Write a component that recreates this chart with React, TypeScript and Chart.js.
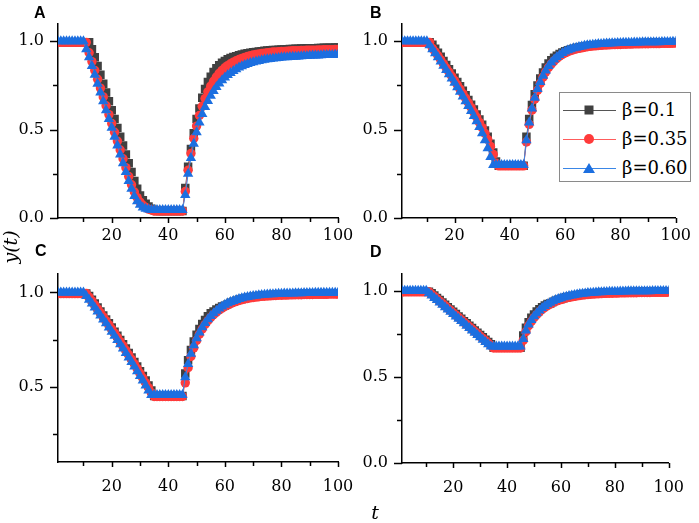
import { useEffect, useRef } from "react";
import Chart from "chart.js/auto";

// time steps t = 1..100
const T = [
  1, 2, 3, 4, 5, 6, 7, 8, 9, 10, 11, 12, 13, 14, 15, 16, 17, 18, 19, 20,
  21, 22, 23, 24, 25, 26, 27, 28, 29, 30, 31, 32, 33, 34, 35, 36, 37, 38, 39, 40,
  41, 42, 43, 44, 45, 46, 47, 48, 49, 50, 51, 52, 53, 54, 55, 56, 57, 58, 59, 60,
  61, 62, 63, 64, 65, 66, 67, 68, 69, 70, 71, 72, 73, 74, 75, 76, 77, 78, 79, 80,
  81, 82, 83, 84, 85, 86, 87, 88, 89, 90, 91, 92, 93, 94, 95, 96, 97, 98, 99, 100,
];

// panel A
const A_B010 = [
  0.994, 0.994, 0.994, 0.994, 0.994, 0.994, 0.994, 0.994, 0.994, 0.994, 0.994, 0.994,
  0.955, 0.91, 0.86, 0.81, 0.76, 0.71, 0.66, 0.61, 0.56, 0.51, 0.46, 0.41, 0.36, 0.31, 0.26, 0.21,
  0.165, 0.128, 0.1, 0.08, 0.065, 0.053, 0.045,
  0.04, 0.04, 0.04, 0.04, 0.04, 0.04, 0.04, 0.04, 0.04, 0.04,
  0.17, 0.29, 0.39, 0.48, 0.56, 0.62, 0.68, 0.73, 0.77, 0.8, 0.826, 0.848, 0.865, 0.878, 0.889,
  0.898, 0.905, 0.911, 0.916, 0.921, 0.925, 0.929, 0.932, 0.935, 0.938, 0.94, 0.942, 0.944, 0.946,
  0.948, 0.949, 0.95, 0.951, 0.952, 0.953, 0.954, 0.955, 0.956, 0.957, 0.958, 0.958, 0.959, 0.959,
  0.96, 0.96, 0.961, 0.961, 0.962, 0.962, 0.963, 0.963, 0.964, 0.964, 0.965, 0.965,
];
const A_B035 = [
  0.994, 0.994, 0.994, 0.994, 0.994, 0.994, 0.994, 0.994, 0.994, 0.994, 0.994,
  0.935, 0.885, 0.835, 0.785, 0.735, 0.685, 0.635, 0.585, 0.535, 0.485, 0.435, 0.385, 0.335, 0.285,
  0.235, 0.188, 0.147, 0.115, 0.09, 0.072, 0.06, 0.05, 0.045,
  0.04, 0.04, 0.04, 0.04, 0.04, 0.04, 0.04, 0.04, 0.04, 0.04, 0.04,
  0.15, 0.27, 0.365, 0.45, 0.52, 0.58, 0.632, 0.676, 0.714, 0.746, 0.774, 0.798, 0.818, 0.835, 0.85,
  0.862, 0.873, 0.882, 0.89, 0.897, 0.903, 0.909, 0.914, 0.918, 0.922, 0.925, 0.928, 0.931, 0.933,
  0.935, 0.937, 0.939, 0.94, 0.941, 0.942, 0.943, 0.944, 0.945, 0.946, 0.947, 0.947, 0.948, 0.948,
  0.949, 0.949, 0.95, 0.95, 0.951, 0.951, 0.952, 0.952, 0.953, 0.953, 0.954, 0.954,
];
const A_B060 = [
  1, 1, 1, 1, 1, 1, 1, 1, 1, 1,
  0.955, 0.91, 0.86, 0.81, 0.76, 0.71, 0.66, 0.61, 0.56, 0.51, 0.46, 0.41, 0.36, 0.31, 0.26, 0.21,
  0.165, 0.125, 0.095, 0.075, 0.06, 0.052, 0.048,
  0.045, 0.045, 0.045, 0.045, 0.045, 0.045, 0.045, 0.045, 0.045, 0.045, 0.045, 0.045,
  0.13, 0.25, 0.34, 0.42, 0.485, 0.54, 0.588, 0.628, 0.662, 0.692, 0.718, 0.741, 0.761, 0.779, 0.795,
  0.809, 0.821, 0.832, 0.842, 0.851, 0.859, 0.866, 0.872, 0.877, 0.881, 0.885, 0.889, 0.892, 0.895,
  0.898, 0.9, 0.902, 0.904, 0.906, 0.908, 0.909, 0.91, 0.911, 0.912, 0.913, 0.914, 0.915, 0.916,
  0.917, 0.918, 0.919, 0.92, 0.92, 0.921, 0.922, 0.922, 0.923, 0.923, 0.924, 0.924,
];

// panel B
const B_B010 = [
  0.994, 0.994, 0.994, 0.994, 0.994, 0.994, 0.994, 0.994, 0.994, 0.994, 0.994,
  0.98, 0.958, 0.935, 0.912, 0.889, 0.866, 0.842, 0.818, 0.794, 0.77, 0.745, 0.72, 0.694, 0.668,
  0.641, 0.614, 0.586, 0.557, 0.527, 0.495, 0.46, 0.42, 0.37, 0.32,
  0.295, 0.295, 0.295, 0.295, 0.295, 0.295, 0.295, 0.295, 0.295, 0.295,
  0.46, 0.56, 0.64, 0.7, 0.75, 0.79, 0.823, 0.851, 0.874, 0.893, 0.907, 0.918, 0.928, 0.936, 0.943,
  0.949, 0.954, 0.958, 0.962, 0.965, 0.967, 0.97, 0.973, 0.975, 0.977, 0.978, 0.98, 0.981, 0.982,
  0.983, 0.984, 0.985, 0.985, 0.986, 0.986, 0.987, 0.987, 0.988, 0.988, 0.989, 0.989, 0.989, 0.99,
  0.99, 0.99, 0.991, 0.991, 0.991, 0.991, 0.992, 0.992, 0.992, 0.992, 0.993, 0.993,
];
const B_B035 = [
  0.994, 0.994, 0.994, 0.994, 0.994, 0.994, 0.994, 0.994, 0.994, 0.994, 0.994,
  0.96, 0.94, 0.918, 0.895, 0.872, 0.849, 0.826, 0.802, 0.778, 0.754, 0.729, 0.704, 0.678, 0.652,
  0.625, 0.598, 0.57, 0.541, 0.511, 0.479, 0.444, 0.405, 0.36, 0.31,
  0.295, 0.295, 0.295, 0.295, 0.295, 0.295, 0.295, 0.295, 0.295, 0.295,
  0.43, 0.53, 0.61, 0.672, 0.722, 0.762, 0.797, 0.827, 0.852, 0.872, 0.889, 0.903, 0.915, 0.925, 0.934,
  0.941, 0.947, 0.952, 0.956, 0.96, 0.963, 0.966, 0.969, 0.971, 0.973, 0.974, 0.976, 0.977, 0.978,
  0.979, 0.98, 0.981, 0.981, 0.982, 0.982, 0.983, 0.983, 0.984, 0.984, 0.985, 0.985, 0.985, 0.986,
  0.986, 0.986, 0.987, 0.987, 0.987, 0.987, 0.988, 0.988, 0.988, 0.988, 0.989, 0.989,
];
const B_B060 = [
  1, 1, 1, 1, 1, 1, 1, 1, 1, 1,
  0.978, 0.955, 0.932, 0.909, 0.886, 0.862, 0.838, 0.814, 0.79, 0.765, 0.74, 0.714, 0.688, 0.661,
  0.634, 0.606, 0.577, 0.547, 0.515, 0.48, 0.44, 0.395, 0.345,
  0.3, 0.3, 0.3, 0.3, 0.3, 0.3, 0.3, 0.3, 0.3, 0.3, 0.3, 0.3,
  0.44, 0.54, 0.62, 0.68, 0.73, 0.77, 0.805, 0.835, 0.86, 0.88, 0.897, 0.911, 0.923, 0.933, 0.942,
  0.949, 0.955, 0.96, 0.964, 0.968, 0.971, 0.974, 0.977, 0.979, 0.981, 0.982, 0.984, 0.985, 0.986,
  0.987, 0.988, 0.989, 0.989, 0.99, 0.99, 0.991, 0.991, 0.992, 0.992, 0.993, 0.993, 0.993, 0.994,
  0.994, 0.994, 0.995, 0.995, 0.995, 0.995, 0.996, 0.996, 0.996, 0.996, 0.997, 0.997,
];

// panel C
const C_B010 = [
  0.994, 0.994, 0.994, 0.994, 0.994, 0.994, 0.994, 0.994, 0.994, 0.994, 0.994,
  0.981, 0.961, 0.941, 0.92, 0.899, 0.878, 0.857, 0.836, 0.814, 0.792, 0.77, 0.748, 0.725, 0.702,
  0.679, 0.655, 0.631, 0.607, 0.582, 0.557, 0.532, 0.506, 0.48,
  0.45, 0.45, 0.45, 0.45, 0.45, 0.45, 0.45, 0.45, 0.45, 0.45, 0.45,
  0.57, 0.64, 0.695, 0.74, 0.776, 0.806, 0.832, 0.854, 0.873, 0.889, 0.899, 0.91, 0.918, 0.925, 0.93,
  0.938, 0.945, 0.951, 0.956, 0.961, 0.965, 0.969, 0.972, 0.975, 0.977, 0.979, 0.981, 0.983, 0.984,
  0.985, 0.986, 0.987, 0.988, 0.989, 0.989, 0.99, 0.99, 0.991, 0.991, 0.992, 0.992, 0.992, 0.993,
  0.993, 0.993, 0.993, 0.994, 0.994, 0.994, 0.994, 0.994, 0.995, 0.995, 0.995, 0.995,
];
const C_B035 = [
  0.994, 0.994, 0.994, 0.994, 0.994, 0.994, 0.994, 0.994, 0.994, 0.994, 0.994,
  0.975, 0.955, 0.934, 0.913, 0.892, 0.871, 0.85, 0.828, 0.806, 0.784, 0.762, 0.739, 0.716, 0.693,
  0.669, 0.645, 0.621, 0.596, 0.571, 0.546, 0.52, 0.494, 0.468,
  0.448, 0.448, 0.448, 0.448, 0.448, 0.448, 0.448, 0.448, 0.448, 0.448, 0.448,
  0.52, 0.6, 0.66, 0.706, 0.745, 0.778, 0.806, 0.83, 0.85, 0.867, 0.882, 0.895, 0.907, 0.917, 0.926,
  0.934, 0.941, 0.947, 0.952, 0.957, 0.961, 0.965, 0.968, 0.971, 0.973, 0.975, 0.977, 0.979, 0.98,
  0.981, 0.982, 0.983, 0.984, 0.985, 0.985, 0.986, 0.986, 0.987, 0.987, 0.988, 0.988, 0.988, 0.989,
  0.989, 0.989, 0.989, 0.99, 0.99, 0.99, 0.99, 0.99, 0.991, 0.991, 0.991, 0.991,
];
const C_B060 = [
  1, 1, 1, 1, 1, 1, 1, 1, 1, 1,
  0.981, 0.961, 0.941, 0.92, 0.899, 0.878, 0.857, 0.836, 0.814, 0.792, 0.77, 0.748, 0.725, 0.702,
  0.679, 0.655, 0.631, 0.607, 0.582, 0.557, 0.532, 0.506, 0.48,
  0.455, 0.455, 0.455, 0.455, 0.455, 0.455, 0.455, 0.455, 0.455, 0.455, 0.455, 0.455,
  0.55, 0.62, 0.675, 0.72, 0.757, 0.788, 0.815, 0.838, 0.858, 0.875, 0.89, 0.903, 0.915, 0.925, 0.934,
  0.942, 0.949, 0.955, 0.96, 0.965, 0.969, 0.973, 0.976, 0.979, 0.981, 0.983, 0.985, 0.987, 0.988,
  0.989, 0.99, 0.991, 0.992, 0.993, 0.993, 0.994, 0.994, 0.995, 0.995, 0.996, 0.996, 0.996, 0.997,
  0.997, 0.997, 0.997, 0.998, 0.998, 0.998, 0.998, 0.998, 0.999, 0.999, 0.999, 0.999,
];

// panel D
const D_B010 = [
  0.994, 0.994, 0.994, 0.994, 0.994, 0.994, 0.994, 0.994, 0.994, 0.994, 0.994,
  0.986, 0.973, 0.959, 0.946, 0.932, 0.919, 0.905, 0.892, 0.878, 0.865, 0.851, 0.838, 0.824, 0.811,
  0.797, 0.784, 0.77, 0.757, 0.743, 0.73, 0.716, 0.703, 0.689,
  0.67, 0.67, 0.67, 0.67, 0.67, 0.67, 0.67, 0.67, 0.67, 0.67, 0.67,
  0.74, 0.785, 0.818, 0.843, 0.863, 0.88, 0.893, 0.905, 0.915, 0.923, 0.927, 0.935, 0.942, 0.948, 0.953,
  0.958, 0.962, 0.966, 0.969, 0.972, 0.975, 0.977, 0.979, 0.981, 0.983, 0.984, 0.985, 0.986, 0.987,
  0.988, 0.989, 0.989, 0.99, 0.99, 0.991, 0.991, 0.992, 0.992, 0.992, 0.993, 0.993, 0.993, 0.993,
  0.994, 0.994, 0.994, 0.994, 0.994, 0.995, 0.995, 0.995, 0.995, 0.995, 0.995, 0.995,
];
const D_B035 = [
  0.994, 0.994, 0.994, 0.994, 0.994, 0.994, 0.994, 0.994, 0.994, 0.994, 0.994,
  0.98, 0.967, 0.953, 0.94, 0.926, 0.913, 0.899, 0.886, 0.872, 0.859, 0.845, 0.832, 0.818, 0.805,
  0.791, 0.778, 0.764, 0.751, 0.737, 0.724, 0.71, 0.697, 0.683,
  0.668, 0.668, 0.668, 0.668, 0.668, 0.668, 0.668, 0.668, 0.668, 0.668, 0.668,
  0.712, 0.762, 0.797, 0.822, 0.844, 0.862, 0.878, 0.892, 0.904, 0.914, 0.923, 0.931, 0.938, 0.944, 0.949,
  0.954, 0.958, 0.962, 0.965, 0.968, 0.971, 0.973, 0.975, 0.977, 0.979, 0.98, 0.981, 0.982, 0.983,
  0.984, 0.985, 0.985, 0.986, 0.986, 0.987, 0.987, 0.988, 0.988, 0.988, 0.989, 0.989, 0.989, 0.989,
  0.99, 0.99, 0.99, 0.99, 0.99, 0.991, 0.991, 0.991, 0.991, 0.991, 0.991, 0.991,
];
const D_B060 = [
  1, 1, 1, 1, 1, 1, 1, 1, 1, 1,
  0.986, 0.973, 0.959, 0.946, 0.932, 0.919, 0.905, 0.892, 0.878, 0.865, 0.851, 0.838, 0.824, 0.811,
  0.797, 0.784, 0.77, 0.757, 0.743, 0.73, 0.716, 0.703, 0.689,
  0.676, 0.676, 0.676, 0.676, 0.676, 0.676, 0.676, 0.676, 0.676, 0.676, 0.676, 0.676,
  0.72, 0.77, 0.805, 0.83, 0.852, 0.87, 0.886, 0.9, 0.912, 0.922, 0.931, 0.939, 0.946, 0.952, 0.957,
  0.962, 0.966, 0.97, 0.973, 0.976, 0.979, 0.981, 0.983, 0.985, 0.987, 0.988, 0.989, 0.99, 0.991,
  0.992, 0.993, 0.993, 0.994, 0.994, 0.995, 0.995, 0.996, 0.996, 0.996, 0.997, 0.997, 0.997, 0.997,
  0.998, 0.998, 0.998, 0.998, 0.998, 0.999, 0.999, 0.999, 0.999, 0.999, 0.999, 0.999,
];

const SERIES_NAMES = ["β=0.1", "β=0.35", "β=0.60"];
const X_TICKS = [10, 20, 30, 40, 50, 60, 70, 80, 90, 100];
const X_LABELED = [20, 40, 60, 80, 100];
const Y_TICKS = [0, 0.25, 0.5, 0.75, 1.0];
const Y_LABELED = [0, 0.5, 1.0];

const MARK_COLORS = ["#404040", "#ff3b3b", "#1c6fe0"];
const LINE_COLORS = ["#555555", "#ff5c5c", "#3a86e6"];
const POINT_STYLES = ["rect", "circle", "triangle"] as const;
const POINT_RADII = [6, 4.7, 6];
const SERIF = "'DejaVu Serif', serif";

const tickMarks = {
  id: "tickMarks",
  afterDraw(chart: Chart) {
    const { ctx, chartArea, scales } = chart;
    const x = scales.x;
    const y = scales.y;
    ctx.save();
    ctx.strokeStyle = "#000";
    ctx.lineWidth = 1.5;
    X_TICKS.forEach((v) => {
      const px = Math.round(x.getPixelForValue(v)) + 0.5;
      const len = X_LABELED.includes(v) ? 5 : 4;
      ctx.beginPath();
      ctx.moveTo(px, chartArea.bottom);
      ctx.lineTo(px, chartArea.bottom + len);
      ctx.stroke();
    });
    Y_TICKS.filter((v) => v >= (y.min as number)).forEach((v) => {
      const py = Math.round(y.getPixelForValue(v)) + 0.5;
      const len = Y_LABELED.includes(v) ? 8 : 5;
      ctx.beginPath();
      ctx.moveTo(chartArea.left - len, py);
      ctx.lineTo(chartArea.left, py);
      ctx.stroke();
    });
    ctx.restore();
  },
};

interface PanelProps {
  series: number[][];
  yMin: number;
  left: number;
  top: number;
  width: number;
  height: number;
  padTop: number;
  padRight: number;
  yWidth: number;
  xHeight: number;
  xLabelPad: number;
}

const Panel: React.FC<PanelProps> = (p) => {
  const canvasRef = useRef<HTMLCanvasElement | null>(null);

  useEffect(() => {
    if (!canvasRef.current) return;
    const chart = new Chart(canvasRef.current, {
      type: "line",
      data: {
        datasets: p.series.map((vals, i) => ({
          label: SERIES_NAMES[i],
          data: T.map((t, j) => ({ x: t, y: vals[j] })),
          borderColor: LINE_COLORS[i],
          borderWidth: 1,
          pointStyle: POINT_STYLES[i],
          pointRadius: POINT_RADII[i],
          pointBackgroundColor: MARK_COLORS[i],
          pointBorderColor: MARK_COLORS[i],
          pointBorderWidth: 0,
          tension: 0,
          order: 3 - i,
        })),
      },
      options: {
        animation: false,
        responsive: false,
        events: [],
        layout: { padding: { top: p.padTop, right: p.padRight, left: 0, bottom: 0 } },
        plugins: { legend: { display: false }, tooltip: { enabled: false } },
        scales: {
          x: {
            type: "linear",
            min: 1,
            max: 100,
            afterBuildTicks: (s) => {
              s.ticks = X_TICKS.map((v) => ({ value: v }));
            },
            afterFit: (s) => {
              s.height = p.xHeight;
            },
            grid: { display: false, drawTicks: false },
            border: { display: true, color: "#000", width: 1.5 },
            ticks: {
              autoSkip: false,
              maxRotation: 0,
              padding: p.xLabelPad,
              color: "#000",
              font: { family: SERIF, size: 16 },
              callback: (v) => (X_LABELED.includes(Number(v)) ? String(v) : ""),
            },
          },
          y: {
            type: "linear",
            min: p.yMin,
            max: 1.1,
            afterBuildTicks: (s) => {
              s.ticks = Y_TICKS.filter((v) => v >= p.yMin).map((v) => ({ value: v }));
            },
            afterFit: (s) => {
              s.width = p.yWidth;
            },
            grid: { display: false, drawTicks: false },
            border: { display: true, color: "#000", width: 1.5 },
            ticks: {
              autoSkip: false,
              padding: 14,
              color: "#000",
              font: { family: SERIF, size: 16 },
              callback: (v) => (Y_LABELED.includes(Number(v)) ? Number(v).toFixed(1) : ""),
            },
          },
        },
      },
      plugins: [tickMarks],
    });
    return () => chart.destroy();
  }, [p]);

  return (
    <canvas
      ref={canvasRef}
      width={p.width}
      height={p.height}
      style={{ position: "absolute", left: p.left, top: p.top, width: p.width, height: p.height }}
    />
  );
};

const PANEL_A = { series: [A_B010, A_B035, A_B060], yMin: 0, left: 0, top: 0, width: 372, height: 250, padTop: 22, padRight: 34, yWidth: 58, xHeight: 32, xLabelPad: 8 };
const PANEL_B = { series: [B_B010, B_B035, B_B060], yMin: 0, left: 349, top: 0, width: 350, height: 250, padTop: 22, padRight: 16, yWidth: 53, xHeight: 32, xLabelPad: 8 };
const PANEL_C = { series: [C_B010, C_B035, C_B060], yMin: 0.1, left: 0, top: 250, width: 372, height: 273, padTop: 17, padRight: 34, yWidth: 58, xHeight: 61, xLabelPad: 15 };
const PANEL_D = { series: [D_B010, D_B035, D_B060], yMin: 0, left: 349, top: 250, width: 350, height: 273, padTop: 17, padRight: 16, yWidth: 53, xHeight: 60, xLabelPad: 15 };

const letterStyle: React.CSSProperties = {
  position: "absolute",
  fontFamily: "'Liberation Sans', Arial, sans-serif",
  fontWeight: "bold",
  fontSize: 16,
  lineHeight: "16px",
  color: "#000",
};

const LegendMark: React.FC<{ i: number }> = ({ i }) => {
  const c = MARK_COLORS[i];
  if (i === 0) return <div style={{ width: 9, height: 9, background: c }} />;
  if (i === 1) return <div style={{ width: 10, height: 10, borderRadius: "50%", background: c }} />;
  return (
    <div style={{ width: 0, height: 0, borderLeft: "6px solid transparent", borderRight: "6px solid transparent", borderBottom: `10px solid ${c}` }} />
  );
};

export default function App() {
  return (
    <div style={{ position: "absolute", left: 0, top: 0, width: 699, height: 523, background: "#fff", overflow: "hidden" }}>
      <Panel {...PANEL_A} />
      <Panel {...PANEL_B} />
      <Panel {...PANEL_C} />
      <Panel {...PANEL_D} />

      <div style={{ ...letterStyle, left: 34, top: 5 }}>A</div>
      <div style={{ ...letterStyle, left: 370, top: 5 }}>B</div>
      <div style={{ ...letterStyle, left: 35, top: 243 }}>C</div>
      <div style={{ ...letterStyle, left: 370, top: 244 }}>D</div>

      <div
        style={{
          position: "absolute",
          left: 10,
          top: 247,
          transform: "translate(-50%, -50%) rotate(-90deg)",
          fontFamily: SERIF,
          fontStyle: "italic",
          fontSize: 19,
          whiteSpace: "nowrap",
          color: "#000",
        }}
      >
        y(t)
      </div>
      <div
        style={{
          position: "absolute",
          left: 375,
          top: 512,
          transform: "translate(-50%, -50%)",
          fontFamily: SERIF,
          fontStyle: "italic",
          fontSize: 19,
          color: "#000",
        }}
      >
        t
      </div>

      <div
        style={{
          position: "absolute",
          left: 559,
          top: 92,
          width: 130,
          height: 88,
          border: "1px solid #8a8a8a",
          background: "#fff",
        }}
      >
        {SERIES_NAMES.map((name, i) => (
          <div key={name} style={{ position: "absolute", left: 0, top: 5 + i * 29, height: 24, width: 130 }}>
            <div style={{ position: "absolute", left: 3, top: 12, width: 53, height: 1, background: LINE_COLORS[i] }} />
            <div style={{ position: "absolute", left: 29, top: 12, transform: "translate(-50%, -50%)" }}>
              <LegendMark i={i} />
            </div>
            <div
              style={{
                position: "absolute",
                left: 62,
                top: 0,
                lineHeight: "24px",
                fontFamily: SERIF,
                fontSize: 18,
                color: "#000",
                whiteSpace: "nowrap",
              }}
            >
              {name}
            </div>
          </div>
        ))}
      </div>
    </div>
  );
}
